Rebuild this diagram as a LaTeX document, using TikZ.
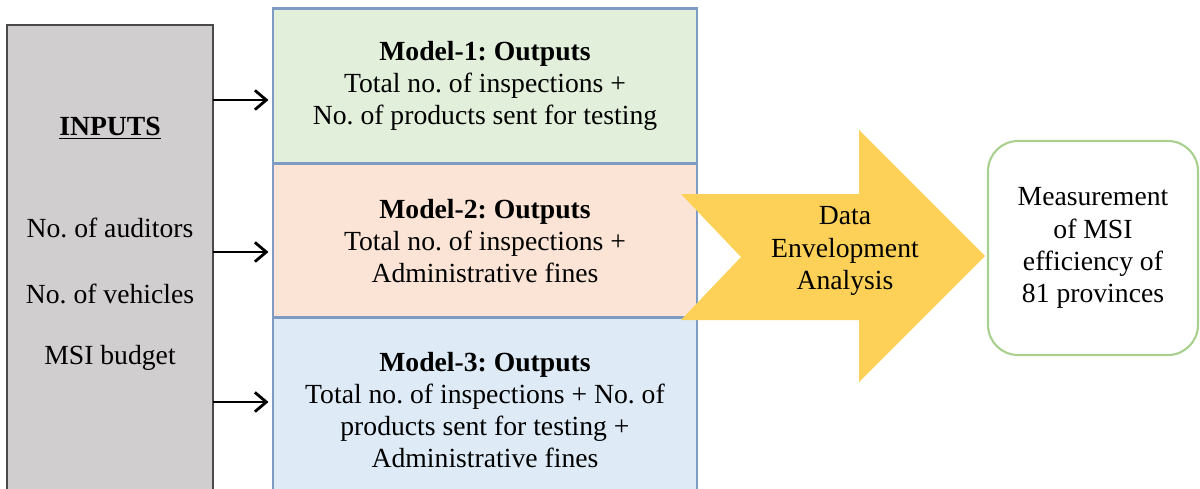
\documentclass[tikz,border=0pt]{standalone}
\usepackage{fontspec}
\setmainfont{Liberation Serif}
\usepackage{tikz}
\usetikzlibrary{arrows.meta}
\frenchspacing

\definecolor{ingray}{HTML}{D0CECE}
\definecolor{inedge}{HTML}{4A4A4A}
\definecolor{modedge}{HTML}{7E9CC3}
\definecolor{mgreen}{HTML}{E2EFDA}
\definecolor{mpeach}{HTML}{FBE4D5}
\definecolor{mblue}{HTML}{DEEBF7}
\definecolor{deagold}{HTML}{FDD157}
\definecolor{resedge}{HTML}{A9D08E}

\tikzset{
  txt/.style={align=center, inner sep=0pt, font=\fontsize{15.75}{18.3}\selectfont},
  modelbox/.style={draw=modedge, line width=1.2pt, minimum width=8.48cm,
    minimum height=3.1cm, inner sep=0pt, txt},
  feed/.style={line width=1.6pt, -{Straight Barb[length=6.5pt,width=11pt,line width=1.6pt]}}
}

\begin{document}
\begin{tikzpicture}[x=0.02cm, y=-0.02cm]

  \useasboundingbox (0,0) rectangle (1200,488);
  \clip (0,0) rectangle (1200,488);

  % inputs column
  \draw[fill=ingray, draw=inedge, line width=1.2pt] (7,25) rectangle (213,520);
  \node[txt] (intitle) at (110,128) {\underline{\textbf{INPUTS}}};
  \node[txt] (aud) at (110,228) {No. of auditors};
  \node[txt] (veh) at (110,294) {No. of vehicles};
  \node[txt] (bud) at (110,358) {MSI budget};

  % the three output models
  \node[modelbox, fill=mgreen] (m1) at (485,86)
    {\textbf{Model-1: Outputs}\\Total no. of inspections +\\No. of products sent for testing};
  \node[modelbox, fill=mpeach] (m2) at (485,241)
    {\textbf{Model-2: Outputs}\\Total no. of inspections +\\Administrative fines};
  \node[modelbox, fill=mblue, minimum height=3.7cm] (m3) at (485,410)
    {\textbf{Model-3: Outputs}\\Total no. of inspections + No. of\\products sent for testing +\\Administrative fines};

  \coordinate (a1) at (213,100);
  \coordinate (a2) at (213,252);
  \coordinate (a3) at (213,402);
  \draw[feed] (a1) -- ([xshift=-2pt]a1 -| m1.west);
  \draw[feed] (a2) -- ([xshift=-2pt]a2 -| m2.west);
  \draw[feed] (a3) -- ([xshift=-2pt]a3 -| m3.west);

  % DEA arrow
  \fill[deagold] (681,194) -- (859,194) -- (859,130) -- (985,256)
    -- (859,382) -- (859,320) -- (681,320) -- (741,257) -- cycle;
  \node[txt] (dea) at (845,251) {Data\\Envelopment\\Analysis};

  % result
  \node[draw=resedge, line width=1.2pt, rounded corners=0.6cm, minimum width=4.2cm,
    minimum height=4.28cm, txt] (res) at (1093,248)
    {Measurement\\of MSI\\efficiency of\\81 provinces};

\end{tikzpicture}
\end{document}
